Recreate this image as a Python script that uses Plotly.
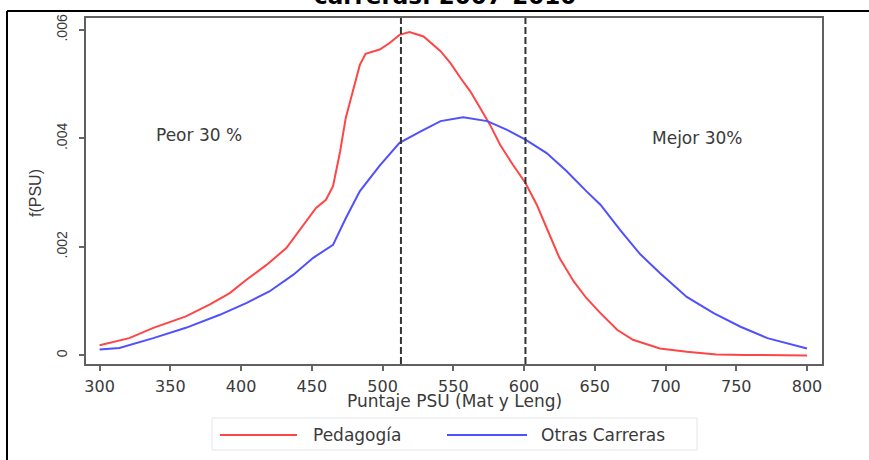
import plotly.graph_objects as go

# ---- data ----
ped_x = [300, 321, 338, 361, 378, 392, 404, 418, 432, 444, 453, 460, 465, 470, 474, 479,
         484, 488, 498, 505, 512, 519, 529, 541, 548, 555, 562, 569, 576, 583, 592, 601,
         609, 616, 625, 635, 644, 654, 666, 677, 696, 715, 736, 756, 776, 800]
ped_y = [0.00019, 0.00032, 0.00051, 0.00072, 0.00094, 0.00115, 0.00140, 0.00167, 0.00198,
         0.00241, 0.00272, 0.00287, 0.00312, 0.00376, 0.00438, 0.00487, 0.00536, 0.00556,
         0.00564, 0.00576, 0.00591, 0.00596, 0.00588, 0.00561, 0.00539, 0.00512, 0.00487,
         0.00456, 0.00425, 0.00389, 0.00352, 0.00318, 0.00278, 0.00235, 0.00180, 0.00137,
         0.00106, 0.00078, 0.00047, 0.00029, 0.00013, 0.00007, 0.00002, 0.00001, 0.00001,
         0.00000]

otr_x = [300, 314, 338, 361, 385, 404, 420, 437, 451, 465, 474, 484, 498, 512, 527, 541,
         557, 574, 588, 601, 616, 630, 644, 654, 668, 682, 696, 715, 734, 753, 772, 800]
otr_y = [0.00011, 0.00014, 0.00032, 0.00051, 0.00075, 0.00097, 0.00118, 0.00149, 0.00180,
         0.00204, 0.00253, 0.00303, 0.00350, 0.00392, 0.00413, 0.00432, 0.00439, 0.00432,
         0.00416, 0.00398, 0.00373, 0.00340, 0.00303, 0.00278, 0.00231, 0.00187, 0.00152,
         0.00108, 0.00078, 0.00053, 0.00032, 0.00013]

series_names = ["Pedagogía", "Otras Carreras"]
series_colors = ["rgb(255,70,70)", "rgb(80,80,255)"]

cut_lines = [513, 601]
region_labels = ["Peor 30 %", "Mejor 30%"]
region_label_x = [370, 722]
region_label_y = [0.00407, 0.00401]

x_ticks = [300, 350, 400, 450, 500, 550, 600, 650, 700, 750, 800]
y_ticks = [0, 0.002, 0.004, 0.006]
y_ticktext = ["0", ".002", ".004", ".006"]

title_text = "carreras. 2007-2010"
x_title = "Puntaje PSU (Mat y Leng)"
y_title = "f(PSU)"

# ---- layout geometry ----
W, H = 869, 460
ML, MR, MT, MB = 86, 47, 18, 96
PW, PH = W - ML - MR, H - MT - MB


def px(xp):
    return (xp - ML) / PW


def py(yp):
    return (MT + PH - yp) / PH


TXT = "#3a3a3a"
FONT = "DejaVu Sans"

fig = go.Figure()
for xs, ys, name, col in [(ped_x, ped_y, series_names[0], series_colors[0]),
                          (otr_x, otr_y, series_names[1], series_colors[1])]:
    fig.add_trace(go.Scatter(x=xs, y=ys, mode="lines", name=name,
                             line=dict(color=col, width=2), showlegend=False))

shapes = []
for c in cut_lines:
    shapes.append(dict(type="line", xref="x", yref="paper", x0=c, x1=c, y0=0, y1=1,
                       line=dict(color="#333333", width=2, dash="7px,3px")))
# outer frame (partly visible)
shapes.append(dict(type="line", xref="paper", yref="paper", x0=px(7), x1=px(W + 5),
                   y0=py(11), y1=py(11), line=dict(color="black", width=2)))
shapes.append(dict(type="line", xref="paper", yref="paper", x0=px(7), x1=px(7),
                   y0=py(11), y1=py(H + 5), line=dict(color="black", width=2)))
# legend box
shapes.append(dict(type="rect", xref="paper", yref="paper", x0=px(212), x1=px(697),
                   y0=py(418), y1=py(450), line=dict(color="#e2e6ea", width=1),
                   fillcolor="white"))
leg_samples = [(220, 297), (447, 527)]
leg_text_x = [311, 539]
annotations = []
for (a, b), col, tx, name in zip(leg_samples, series_colors, leg_text_x, series_names):
    shapes.append(dict(type="line", xref="paper", yref="paper", x0=px(a), x1=px(b),
                       y0=py(435), y1=py(435), line=dict(color=col, width=2)))
    annotations.append(dict(xref="paper", yref="paper", x=px(tx), y=py(435), text=name,
                            showarrow=False, xanchor="left", yanchor="middle",
                            font=dict(family=FONT, size=17, color=TXT)))

for t, xv, yv in zip(region_labels, region_label_x, region_label_y):
    annotations.append(dict(x=xv, y=yv, xref="x", yref="y", text=t, showarrow=False,
                            xanchor="center", yanchor="middle",
                            font=dict(family=FONT, size=17, color=TXT)))

annotations.append(dict(xref="paper", yref="paper", x=px(454), y=py(401), text=x_title,
                        showarrow=False, xanchor="center", yanchor="middle",
                        font=dict(family=FONT, size=17, color=TXT)))
annotations.append(dict(xref="paper", yref="paper", x=px(35), y=py(193), text=y_title,
                        showarrow=False, textangle=-90, xanchor="center", yanchor="middle",
                        font=dict(family="Liberation Sans", size=16, color=TXT)))
annotations.append(dict(xref="paper", yref="paper", x=px(445), y=py(-4),
                        text="<b>" + title_text + "</b>", showarrow=False,
                        xanchor="center", yanchor="middle",
                        font=dict(family=FONT, size=23, color="black")))

fig.update_layout(
    width=W, height=H,
    margin=dict(l=ML, r=MR, t=MT, b=MB, pad=0),
    paper_bgcolor="white", plot_bgcolor="white",
    shapes=shapes, annotations=annotations,
    showlegend=False,
)
fig.update_xaxes(range=[290.4, 810.6], tickvals=x_ticks, ticks="outside", ticklen=5,
                 tickwidth=1.5, tickcolor="#666666", showline=True, linecolor="#606060",
                 linewidth=2, mirror=True, showgrid=False, zeroline=False,
                 tickfont=dict(family=FONT, size=16, color=TXT), ticklabelstandoff=2)
fig.update_yaxes(range=[-0.000157, 0.006221], tickvals=y_ticks, ticktext=y_ticktext,
                 ticks="outside", ticklen=5, tickwidth=1.5, tickcolor="#666666",
                 showline=True, linecolor="#606060", linewidth=2, mirror=True,
                 showgrid=False, zeroline=False, tickangle=-90,
                 tickfont=dict(family="Liberation Sans", size=14, color=TXT),
                 ticklabelstandoff=6)

fig.write_html("out.html", config={"displayModeBar": False},
               post_script="document.body.style.margin='0px';")
